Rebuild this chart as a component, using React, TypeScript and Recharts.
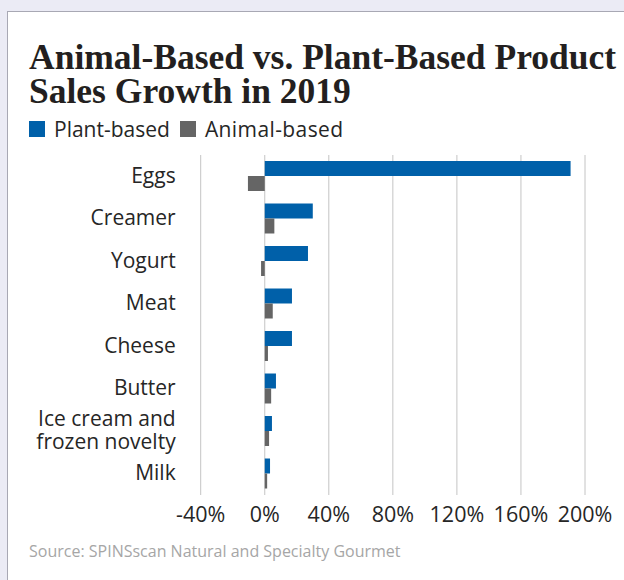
import { BarChart, Bar, XAxis, YAxis, CartesianGrid } from 'recharts'

const categories = ['Eggs', 'Creamer', 'Yogurt', 'Meat', 'Cheese', 'Butter', 'Ice cream and\nfrozen novelty', 'Milk']
const plantBased = [191, 30, 27, 17, 17, 7, 4.5, 3.3]
const animalBased = [-10.5, 6, -2.3, 5, 2, 4, 2.7, 1.5]
const xTicks = [-40, 0, 40, 80, 120, 160, 200]

const BLUE = '#0060a9'
const GRAY = '#656565'
const FONT = '"Open Sans", sans-serif'

const data = categories.map((name, i) => ({
  name,
  plant: plantBased[i],
  animal: animalBased[i],
}))

function CategoryTick({ x, y, payload }: any) {
  const lines = String(payload.value).split('\n')
  const step = 23
  const start = -((lines.length - 1) * step) / 2
  return (
    <text x={x} y={y} textAnchor="end" fontFamily={FONT} fontSize={21} fill="#262626">
      {lines.map((l, i) => (
        <tspan key={i} x={x} y={y + start + i * step} dy="0.3em">
          {l}
        </tspan>
      ))}
    </text>
  )
}

export default function App() {
  const titleStyle = {
    position: 'absolute' as const,
    left: 29,
    fontFamily: '"Liberation Serif", serif',
    fontWeight: 'bold' as const,
    fontSize: 35.5,
    lineHeight: '34px',
    color: '#231f20',
    whiteSpace: 'nowrap' as const,
  }
  return (
    <div style={{ position: 'absolute', left: 0, top: 0, width: 624, height: 580, background: '#ebebf5', overflow: 'hidden' }}>
      <div
        style={{
          position: 'absolute',
          left: 7,
          top: 11,
          width: 640,
          height: 600,
          background: '#fff',
          border: '1px solid #a8a8b4',
        }}
      />
      <div style={{ ...titleStyle, top: 40 }}>Animal-Based vs. Plant-Based Product</div>
      <div style={{ ...titleStyle, top: 74 }}>Sales Growth in 2019</div>
      <div
        style={{
          position: 'absolute',
          left: 29,
          top: 117,
          display: 'flex',
          alignItems: 'center',
          fontFamily: FONT,
          fontSize: 21,
          lineHeight: '24px',
          color: '#262626',
          whiteSpace: 'nowrap',
        }}
      >
        <span style={{ width: 16, height: 16, background: BLUE, marginRight: 9 }} />
        <span style={{ marginRight: 10 }}>Plant-based</span>
        <span style={{ width: 16, height: 16, background: GRAY, marginRight: 9 }} />
        <span style={{ letterSpacing: 0.4 }}>Animal-based</span>
      </div>
      <div style={{ position: 'absolute', left: 0, top: 0 }}>
        <BarChart
          width={624}
          height={580}
          data={data}
          layout="vertical"
          margin={{ top: 155, right: 39, left: 0, bottom: 55 }}
          barGap={0}
        >
          <CartesianGrid horizontal={false} stroke="#c4c4c4" />
          <XAxis
            type="number"
            domain={[-40, 200]}
            ticks={xTicks}
            tickFormatter={(v: number) => `${v}%`}
            axisLine={false}
            tickLine={false}
            tickSize={0}
            tickMargin={12}
            height={30}
            interval={0}
            tick={{ fontFamily: FONT, fontSize: 21.5, fill: '#262626' }}
          />
          <YAxis
            type="category"
            dataKey="name"
            width={200.7}
            axisLine={false}
            tickLine={false}
            tickSize={0}
            tickMargin={25}
            interval={0}
            tick={<CategoryTick />}
          />
          <Bar dataKey="plant" fill={BLUE} barSize={15} isAnimationActive={false} />
          <Bar dataKey="animal" fill={GRAY} barSize={15} isAnimationActive={false} />
        </BarChart>
      </div>
      <div
        style={{
          position: 'absolute',
          left: 29,
          top: 540,
          fontFamily: FONT,
          fontSize: 16,
          lineHeight: '22px',
          color: '#a6a6a6',
          whiteSpace: 'nowrap',
        }}
      >
        Source: SPINSscan Natural and Specialty Gourmet
      </div>
    </div>
  )
}
